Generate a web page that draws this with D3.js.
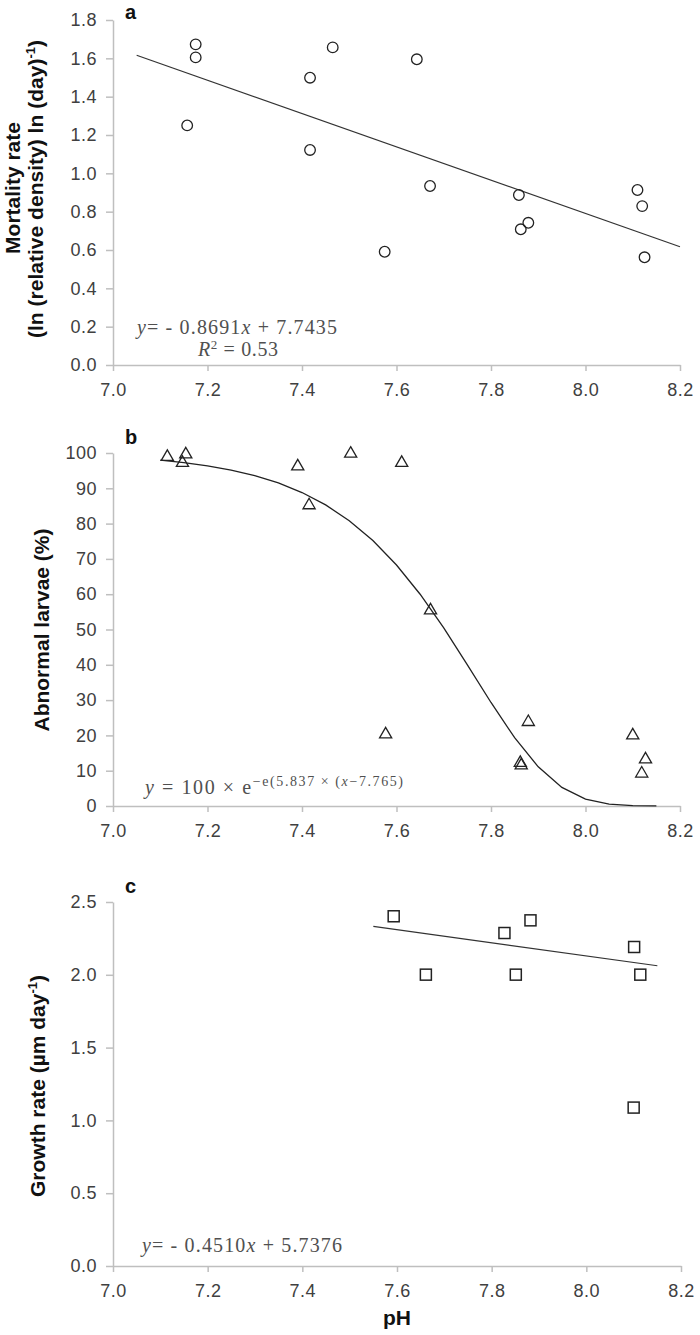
<!DOCTYPE html>
<html><head><meta charset="utf-8">
<script src="https://cdn.jsdelivr.net/npm/d3@7"></script>
<style>
body{margin:0;background:#fff;}
svg{display:block;}
.tick text{font-family:"Liberation Sans",Arial,sans-serif;font-size:18px;fill:#404040;letter-spacing:0.5px;}
</style></head>
<body>
<svg id="chart" width="700" height="1335"></svg>
<script>
// ---- data ----
// Panel a: mortality rate
const phA = [7.175, 7.175, 7.157, 7.417, 7.417, 7.465, 7.643, 7.671, 7.859, 8.110, 8.120, 7.575, 7.863, 7.879, 8.125];
const mortality = [1.673, 1.605, 1.250, 1.499, 1.122, 1.657, 1.595, 0.934, 0.887, 0.913, 0.829, 0.591, 0.708, 0.742, 0.562];
const fitA = [-0.8691, 7.7435]; // slope, intercept
const fitARange = [7.05, 8.2];
// Panel b: abnormal larvae
const phB = [7.115, 7.154, 7.147, 7.391, 7.415, 7.503, 7.611, 7.672, 7.577, 7.879, 7.862, 7.864, 8.100, 8.127, 8.119];
const abnormal = [98.9, 99.6, 97.2, 96.2, 85.2, 99.8, 97.2, 55.4, 20.3, 23.8, 12.2, 11.5, 20.0, 13.2, 9.2];
const fitB = [100, 5.837, 7.765]; // y = a * exp(-exp(b*(x-c)))
const fitBRange = [7.1, 8.15];
// Panel c: growth rate
const phC = [7.593, 7.661, 7.827, 7.882, 7.851, 8.101, 8.114, 8.100];
const growth = [2.402, 2.001, 2.287, 2.374, 2.001, 2.191, 2.001, 1.088];
const fitC = [-0.4510, 5.7376];
const fitCRange = [7.55, 8.15];
// ticks
const xTicks = [7.0, 7.2, 7.4, 7.6, 7.8, 8.0, 8.2];
const yTicksA = [0, 0.2, 0.4, 0.6, 0.8, 1.0, 1.2, 1.4, 1.6, 1.8];
const yTicksB = [0, 10, 20, 30, 40, 50, 60, 70, 80, 90, 100];
const yTicksC = [0, 0.5, 1.0, 1.5, 2.0, 2.5];

const svg = d3.select("#chart");
const SANS = '"Liberation Sans", Arial, sans-serif';
const SERIF = '"Liberation Serif", "Times New Roman", serif';
const AXC = "#bfbfbf", MK = "#222", EQC = "#505050";

function axes(x, y, yTicks, yFmt, x0y) {
  const gx = svg.append("g").attr("transform", `translate(0,${x0y})`)
    .call(d3.axisBottom(x).tickValues(xTicks).tickFormat(d3.format(".1f")).tickSize(6).tickSizeOuter(0).tickPadding(12));
  const gy = svg.append("g").attr("transform", `translate(${x.range()[0]},0)`)
    .call(d3.axisLeft(y).tickValues(yTicks).tickFormat(yFmt).tickSize(7).tickSizeOuter(0).tickPadding(9));
  [gx, gy].forEach(g => { g.selectAll("path,line").attr("stroke", AXC).attr("stroke-width", 1.5); });
}

function letter(t, x, y) {
  svg.append("text").attr("x", x).attr("y", y).text(t)
    .attr("font-family", SANS).attr("font-weight", "bold").attr("font-size", 20).attr("fill", "#111");
}

function ytitle(parts, bx, cy, len) {
  const t = svg.append("text")
    .attr("transform", `translate(${bx},${cy}) rotate(-90)`)
    .attr("text-anchor", "middle").attr("font-family", SANS)
    .attr("font-weight", "bold").attr("font-size", 21).attr("fill", "#111");
  if (len) t.attr("textLength", len).attr("lengthAdjust", "spacing");
  parts.forEach(p => {
    if (p.sup) {
      t.append("tspan").attr("dy", -8).attr("font-size", 13).text(p.t);
      t.append("tspan").attr("dy", 8).text(p.after || "");
    } else t.append("tspan").text(p.t);
  });
}

function eq(x, y, len, parts) {
  const t = svg.append("text").attr("x", x).attr("y", y).attr("font-family", SERIF)
    .attr("font-size", 20).attr("fill", EQC);
  if (len) t.attr("textLength", len).attr("lengthAdjust", "spacing");
  parts.forEach(p => {
    const s = t.append("tspan").text(p.t);
    if (p.i) s.attr("font-style", "italic");
    if (p.dy) s.attr("dy", p.dy);
    if (p.fs) s.attr("font-size", p.fs);
  });
}

// ---------- Panel a ----------
const xA = d3.scaleLinear().domain([7, 8.2]).range([113, 680]);
const yA = d3.scaleLinear().domain([0, 1.8]).range([365, 20]);
axes(xA, yA, yTicksA, d3.format(".1f"), 365);
svg.append("line")
  .attr("x1", xA(fitARange[0])).attr("y1", yA(fitA[0] * fitARange[0] + fitA[1]))
  .attr("x2", xA(fitARange[1])).attr("y2", yA(fitA[0] * fitARange[1] + fitA[1]))
  .attr("stroke", "#333").attr("stroke-width", 1.2);
svg.append("g").selectAll("circle").data(phA).join("circle")
  .attr("cx", d => xA(d)).attr("cy", (d, i) => yA(mortality[i])).attr("r", 5.3)
  .attr("fill", "none").attr("stroke", MK).attr("stroke-width", 1.3);
letter("a", 125, 19);
ytitle([{t: "Mortality rate"}], 20, 188);
ytitle([{t: "(ln (relative density) ln (day)"}, {t: "-1", sup: true, after: ")"}], 43, 189, 298);
eq(137, 334, 200, [{t: "y", i: 1}, {t: "= - 0.8691"}, {t: "x", i: 1}, {t: " + 7.7435"}]);
eq(198, 356, 80, [{t: "R", i: 1}, {t: "2", dy: -7, fs: 13}, {t: " = 0.53", dy: 7}]);

// ---------- Panel b ----------
const xB = d3.scaleLinear().domain([7, 8.2]).range([113, 680]);
const yB = d3.scaleLinear().domain([0, 100]).range([806, 453]);
axes(xB, yB, yTicksB, d3.format("d"), 806);
const curveX = d3.range(fitBRange[0], fitBRange[1] + 1e-9, 0.05);
svg.append("path")
  .datum(curveX)
  .attr("d", d3.line().x(d => xB(d)).y(d => yB(fitB[0] * Math.exp(-Math.exp(fitB[1] * (d - fitB[2]))))))
  .attr("fill", "none").attr("stroke", "#222").attr("stroke-width", 1.3);
const tri = d3.symbol().type(d3.symbolTriangle).size(64);
svg.append("g").selectAll("path").data(phB).join("path")
  .attr("transform", (d, i) => `translate(${xB(d)},${yB(abnormal[i])})`)
  .attr("d", tri).attr("fill", "none").attr("stroke", MK).attr("stroke-width", 1.3);
letter("b", 125, 444);
ytitle([{t: "Abnormal larvae (%)"}], 49, 630);
eq(145, 794, 258, [{t: "y", i: 1}, {t: " = 100  \u00d7  e"}, {t: "\u2212e(5.837 \u00d7 (", dy: -8, fs: 14}, {t: "x", i: 1, fs: 14}, {t: "\u22127.765)", fs: 14}]);

// ---------- Panel c ----------
const xC = d3.scaleLinear().domain([7, 8.2]).range([113, 681]);
const yC = d3.scaleLinear().domain([0, 2.5]).range([1266, 902]);
axes(xC, yC, yTicksC, d3.format(".1f"), 1266);
svg.append("line")
  .attr("x1", xC(fitCRange[0])).attr("y1", yC(fitC[0] * fitCRange[0] + fitC[1]))
  .attr("x2", xC(fitCRange[1])).attr("y2", yC(fitC[0] * fitCRange[1] + fitC[1]))
  .attr("stroke", "#333").attr("stroke-width", 1.2);
svg.append("g").selectAll("rect").data(phC).join("rect")
  .attr("x", d => xC(d) - 5.5).attr("y", (d, i) => yC(growth[i]) - 5.5)
  .attr("width", 11).attr("height", 11)
  .attr("fill", "none").attr("stroke", MK).attr("stroke-width", 1.5);
letter("c", 125, 893);
ytitle([{t: "Growth rate (\u00b5m day"}, {t: "-1", sup: true, after: ")"}], 45, 1086);
eq(142, 1252, 200, [{t: "y", i: 1}, {t: "= - 0.4510"}, {t: "x", i: 1}, {t: " + 5.7376"}]);
svg.append("text").attr("x", 397).attr("y", 1325).attr("text-anchor", "middle")
  .attr("font-family", SANS).attr("font-weight", "bold").attr("font-size", 21).attr("fill", "#111").text("pH");
</script>
</body></html>
